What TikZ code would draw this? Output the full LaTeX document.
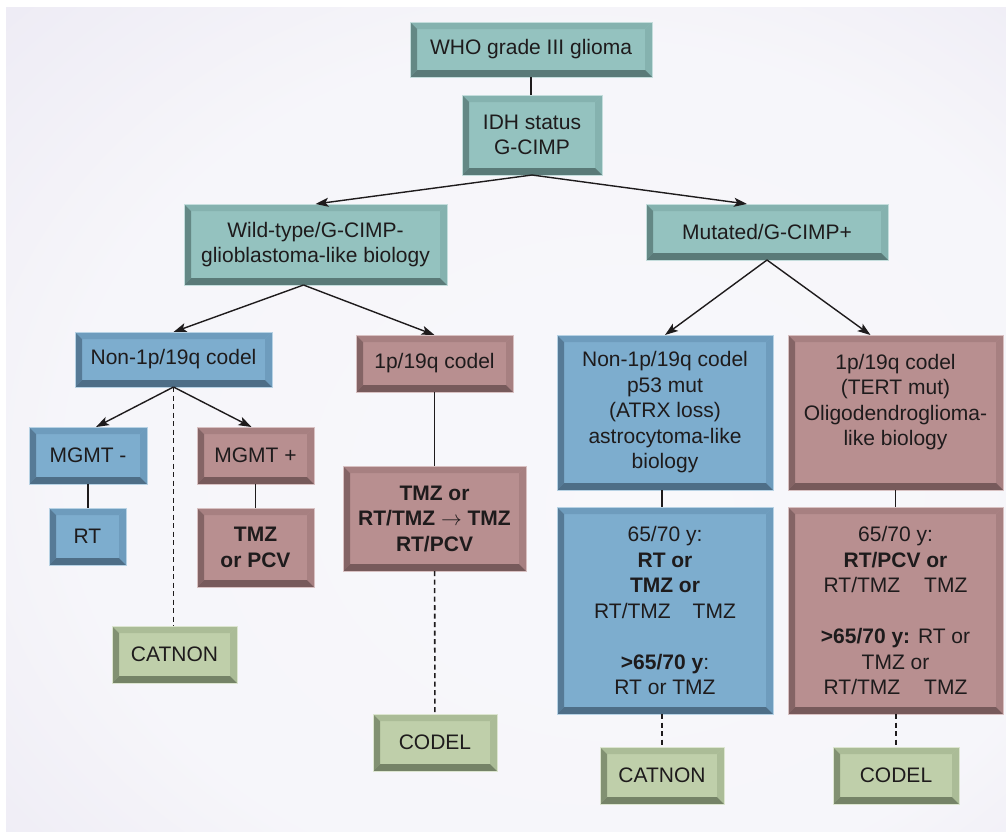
\documentclass[tikz,border=0pt]{standalone}
\usepackage{fontspec}
\setmainfont{Liberation Sans}
\usepackage{tikz}
\usetikzlibrary{arrows.meta}

\definecolor{tealface}{RGB}{148,194,191}
\definecolor{teallight}{RGB}{133,178,175}
\definecolor{tealdark}{RGB}{100,136,133}
\definecolor{blueface}{RGB}{125,173,206}
\definecolor{bluelight}{RGB}{110,156,189}
\definecolor{bluedark}{RGB}{86,122,150}
\definecolor{pinkface}{RGB}{184,143,144}
\definecolor{pinklight}{RGB}{167,128,129}
\definecolor{pinkdark}{RGB}{132,100,101}
\definecolor{greenface}{RGB}{191,207,170}
\definecolor{greenlight}{RGB}{171,188,151}
\definecolor{greendark}{RGB}{130,145,114}
\definecolor{inktext}{RGB}{30,27,28}

\pgfdeclareradialshading{panelglow}{\pgfpoint{8bp}{-6bp}}{rgb(0bp)=(0.972,0.972,0.985); rgb(26bp)=(0.965,0.963,0.98); rgb(50bp)=(0.9,0.885,0.94)}

\tikzset{
  bevel/.style n args={3}{fill=#1, draw=#1!55!white, line width=0.7pt,
    path picture={
      \fill[#2] (path picture bounding box.north west) -- (path picture bounding box.north east)
        -- ([shift={(-7pt,-7pt)}]path picture bounding box.north east) -- ([shift={(7pt,-7pt)}]path picture bounding box.north west) -- cycle;
      \fill[#2] (path picture bounding box.north east) -- (path picture bounding box.south east)
        -- ([shift={(-7pt,7pt)}]path picture bounding box.south east) -- ([shift={(-7pt,-7pt)}]path picture bounding box.north east) -- cycle;
      \fill[#3] (path picture bounding box.north west) -- (path picture bounding box.south west)
        -- ([shift={(7pt,7pt)}]path picture bounding box.south west) -- ([shift={(7pt,-7pt)}]path picture bounding box.north west) -- cycle;
      \fill[#3!90!black] (path picture bounding box.south west) -- (path picture bounding box.south east)
        -- ([shift={(-7pt,7pt)}]path picture bounding box.south east) -- ([shift={(7pt,7pt)}]path picture bounding box.south west) -- cycle;
    }},
  tealbox/.style={bevel={tealface}{teallight}{tealdark}},
  bluebox/.style={bevel={blueface}{bluelight}{bluedark}},
  pinkbox/.style={bevel={pinkface}{pinklight}{pinkdark}},
  greenbox/.style={bevel={greenface}{greenlight}{greendark}},
  link/.style={draw=inktext, line width=1.9pt},
  dashlink/.style={draw=inktext, line width=1.6pt, dash pattern=on 5pt off 3.5pt},
  arr/.style={draw=inktext, line width=1.4pt, -{Stealth[length=13pt,width=9pt,inset=3pt]}}
}

\begin{document}
\begin{tikzpicture}[x={(1pt,0pt)},y={(0pt,-1pt)},every node/.style={inner sep=0pt, outer sep=0pt, align=center, text=inktext, font=\fontsize{21}{25.5}\selectfont}]
\useasboundingbox (0,0) rectangle (1006,831);
\shade[shading=panelglow] (6,7) rectangle (1006,831);
\node[tealbox, minimum width=242pt, minimum height=55pt] (who) at (531,49.5) {WHO grade III glioma};
\node[tealbox, minimum width=140pt, minimum height=80pt] (idh) at (532,135) {IDH status\\G-CIMP};
\node[tealbox, minimum width=263pt, minimum height=81pt] (wild) at (315.5,244.5) {Wild-type/G-CIMP-\\glioblastoma-like biology};
\node[tealbox, minimum width=242pt, minimum height=56pt] (mut) at (767,232) {Mutated/G-CIMP+};
\node[bluebox, minimum width=197pt, minimum height=55pt] (nonl) at (173.5,359.5) {Non-1p/19q codel};
\node[pinkbox, minimum width=157pt, minimum height=57pt] (codm) at (434.5,363.5) {1p/19q codel};
\node[bluebox, minimum width=118pt, minimum height=57pt] (mgmtn) at (88,455.5) {MGMT -};
\node[bluebox, minimum width=77pt, minimum height=57pt] (rt) at (87.5,536.5) {RT};
\node[pinkbox, minimum width=117pt, minimum height=57pt] (mgmtp) at (255.5,455.5) {MGMT +};
\node[pinkbox, minimum width=117pt, minimum height=79pt] (tmzpcv) at (255.5,547.5) {\textbf{TMZ}\\\textbf{or PCV}};
\node[greenbox, minimum width=125pt, minimum height=57pt] (catl) at (174.5,654.5) {CATNON};
\node[pinkbox, minimum width=183pt, minimum height=105pt] (tmzm) at (434.5,518.5) {\textbf{TMZ or}\\\textbf{RT/TMZ $\rightarrow$ TMZ}\\\textbf{RT/PCV}};
\node[greenbox, minimum width=124pt, minimum height=57pt] (codelm) at (435,742.5) {CODEL};
\node[bluebox, minimum width=216pt, minimum height=155pt] (astro) at (665,412.5) {Non-1p/19q codel\\p53 mut\\(ATRX loss)\\astrocytoma-like\\biology};
\node[pinkbox, minimum width=215pt, minimum height=155pt] (oligo) at (895.5,412.5) {1p/19q codel\\(TERT mut)\\Oligodendroglioma-\\like biology\\\mbox{}};
\node[bluebox, minimum width=216pt, minimum height=207pt] (trtb) at (665,610.5) {65/70 y:\\\textbf{RT or}\\\textbf{TMZ or}\\RT/TMZ\hspace{22pt}TMZ\\[25.5pt]\textbf{>65/70 y}:\\RT or TMZ};
\node[pinkbox, minimum width=215pt, minimum height=207pt] (trtp) at (895.5,610.5) {65/70 y:\\\textbf{RT/PCV or}\\RT/TMZ\hspace{24pt}TMZ\\[25.5pt]\textbf{>65/70 y:} RT or\\TMZ or\\RT/TMZ\hspace{24pt}TMZ};
\node[greenbox, minimum width=124pt, minimum height=57pt] (catr) at (662,775.5) {CATNON};
\node[greenbox, minimum width=126pt, minimum height=57pt] (codelr) at (896,775.5) {CODEL};
\draw[link] (who.south) -- (who.south |- idh.north);
\draw[arr] (idh.south) -- (wild.north);
\draw[arr] (idh.south) -- ([xshift=-20pt]mut.north);
\draw[arr] ([xshift=-12pt]wild.south) -- (nonl.north);
\draw[arr] ([xshift=-12pt]wild.south) -- (codm.north);
\draw[arr] (nonl.south) -- ([xshift=8pt]mgmtn.north);
\draw[arr] (nonl.south) -- ([xshift=-4pt]mgmtp.north);
\draw[link] (mgmtn.south) -- (mgmtn.south |- rt.north);
\draw[link] (mgmtp) -- (tmzpcv);
\draw[dashlink] (nonl.south) -- (nonl.south |- catl.north);
\draw[link] (codm) -- (tmzm);
\draw[dashlink] (tmzm) -- (codelm);
\draw[arr] (mut.south) -- (astro.north);
\draw[arr] (mut.south) -- ([xshift=-25pt]oligo.north);
\draw[link] (astro.south -| catr.north) -- (trtb.north -| catr.north);
\draw[link] (oligo) -- (trtp);
\draw[dashlink] (trtb.south -| catr.north) -- (catr.north);
\draw[dashlink] (trtp.south -| codelr.north) -- (codelr.north);
\end{tikzpicture}
\end{document}
